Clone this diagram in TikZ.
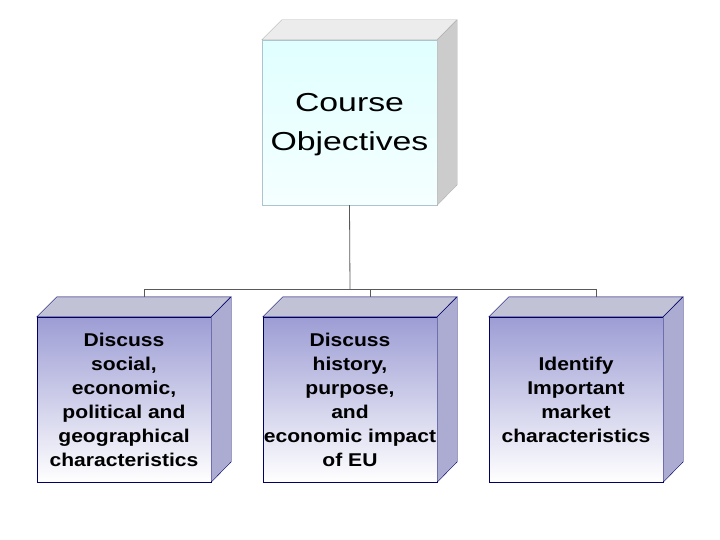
\documentclass[tikz,border=0pt]{standalone}
\usepackage{fontspec}
\setmainfont{Liberation Sans}
\newfontfamily\wideA[FakeStretch=1.14]{Liberation Sans}
\newfontfamily\wideB[FakeStretch=1.3]{Liberation Sans}
\begin{document}
\begin{tikzpicture}[x=1pt,y=-1pt,
  topbox/.style={draw=cyan!30!gray!60,top color=cyan!12,bottom color=cyan!4,minimum width=175pt,minimum height=165pt,inner sep=0pt},
  subbox/.style={draw=blue!40!black,top color=blue!40!gray!55,bottom color=white,minimum width=174pt,minimum height=165pt,inner sep=0pt,align=center,font=\wideA\bfseries\fontsize{18.5}{24}\selectfont},
  sideface/.style={fill=gray!40,draw=gray!60},
  topface/.style={fill=gray!15,draw=gray!60},
  sidefaceb/.style={fill=blue!30!gray!50,draw=blue!40!black},
  topfaceb/.style={fill=blue!20!gray!40,draw=blue!40!black},
  link/.style={draw=gray!70!black,line width=0.8pt}]
\useasboundingbox (0,0) rectangle (720,540);
\node[topbox] (top) at (349.5,122.5) {};
\node[font=\wideB\fontsize{26}{39}\selectfont,align=center] (toplabel) at (349.5,125) {Course\\Objectives};
\fill[topface] (top.north west) -- ++(20,-20) -- ++(175,0) -- (top.north east) -- cycle;
\fill[sideface] (top.north east) -- ++(20,-20) -- ++(0,165) -- (top.south east) -- cycle;
\foreach \n/\x/\t in {a/124/{Discuss\\social,\\economic,\\political and\\geographical\\characteristics},
                      b/350/{Discuss\\history,\\purpose,\\and\\economic impact\\of EU},
                      c/576/{Identify\\Important\\market\\characteristics}}{
  \node[subbox] (\n) at (\x,399.5) {\t};
  \fill[topfaceb] (\n.north west) -- ++(20,-20) -- ++(174,0) -- (\n.north east) -- cycle;
  \fill[sidefaceb] (\n.north east) -- ++(20,-20) -- ++(0,165) -- (\n.south east) -- cycle;
  \coordinate (\n t) at ([xshift=20pt,yshift=20pt]\n.north);
}
\coordinate (j) at (350,289);
\draw[link] (top.south) -- (j);
\draw[link] (at) -- (at |- j) -- (ct |- j) -- (ct);
\draw[link] (bt |- j) -- (bt);
\end{tikzpicture}
\end{document}
